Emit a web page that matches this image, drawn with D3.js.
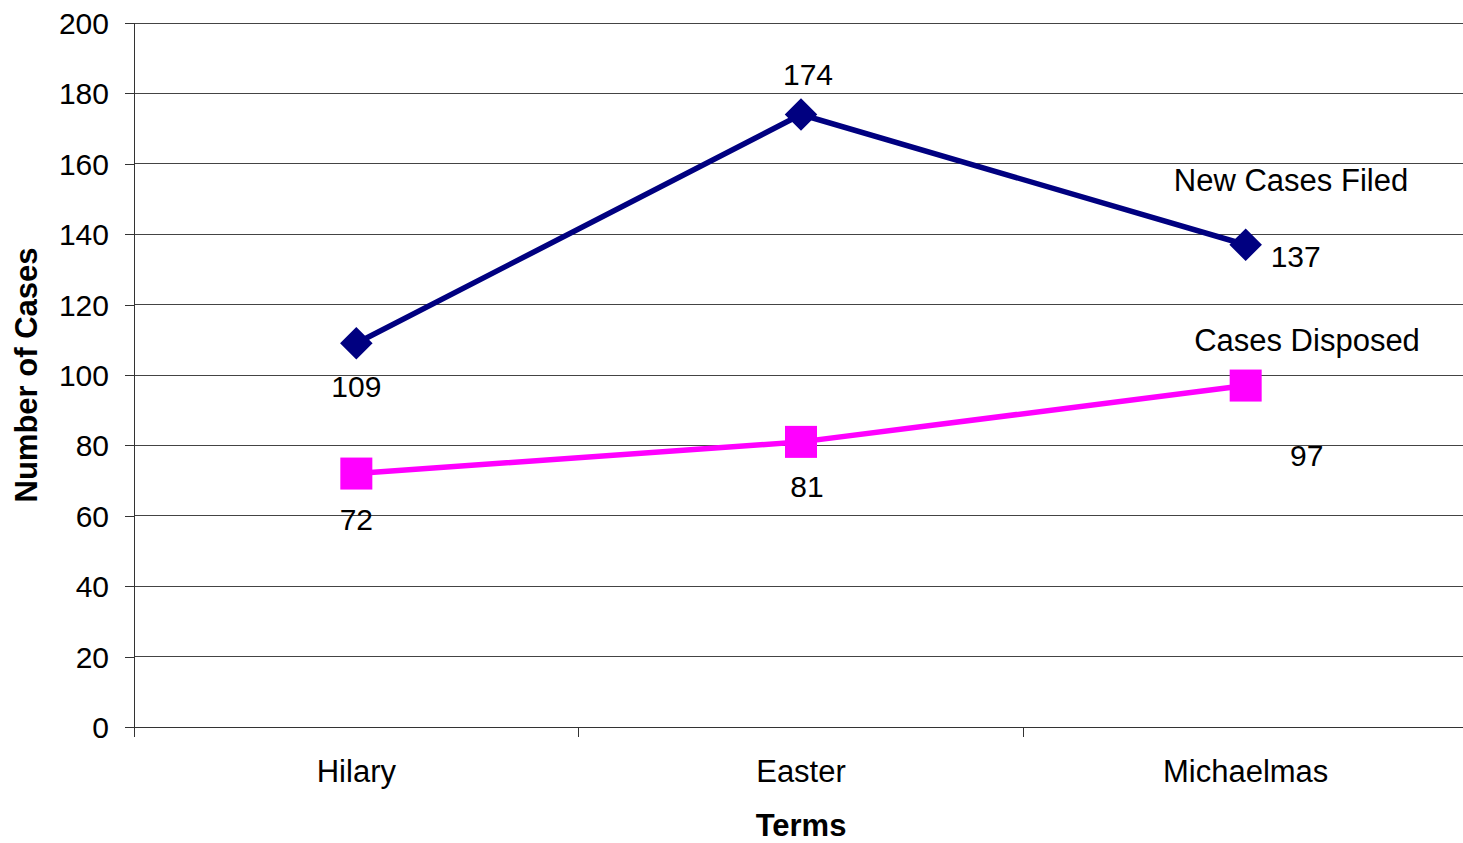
<!DOCTYPE html>
<html>
<head>
<meta charset="utf-8">
<script src="https://cdn.jsdelivr.net/npm/d3@7"></script>
<style>
  html, body { margin: 0; padding: 0; background: #fff; }
  svg { display: block; font-family: "Liberation Sans", Arial, Helvetica, sans-serif; }
</style>
</head>
<body>
<svg id="chart" width="1463" height="843"></svg>
<script>
// ---- data ----
const categories = ["Hilary", "Easter", "Michaelmas"];
const newCasesFiled = [109, 174, 137];
const casesDisposed = [72, 81, 97];
const yTicks = [0, 20, 40, 60, 80, 100, 120, 140, 160, 180, 200];
const seriesNames = ["New Cases Filed", "Cases Disposed"];
const xTitle = "Terms";
const yTitle = "Number of Cases";

(function () {
// ---- layout ----
const W = 1463, H = 843;
const pLeft = 134, pRight = 1468, pTop = 23, pBottom = 727;
const numFont = 30, txtFont = 31;
const svg = d3.select("#chart");

const x = d3.scaleBand().domain(categories).range([pLeft, pRight]).padding(0);
const y = d3.scaleLinear().domain([0, 200]).range([pBottom, pTop]);
const cx = c => x(c) + x.bandwidth() / 2;

// gridlines
svg.append("g").selectAll("line").data(yTicks.filter(v => v > 0)).join("line")
  .attr("x1", pLeft).attr("x2", W).attr("y1", d => y(d)).attr("y2", d => y(d))
  .attr("stroke", "#444").attr("stroke-width", 1).attr("shape-rendering", "crispEdges");

// y axis
const yAxis = svg.append("g").attr("transform", `translate(${pLeft},0)`)
  .call(d3.axisLeft(y).tickValues(yTicks).tickSize(9).tickPadding(16));
yAxis.select(".domain").attr("stroke", "#333").attr("shape-rendering", "crispEdges");
yAxis.selectAll(".tick line").attr("stroke", "#333").attr("shape-rendering", "crispEdges");
yAxis.selectAll("text").attr("font-size", numFont).attr("fill", "#000")
  .attr("font-family", "Liberation Sans, Arial, sans-serif").attr("dy", "0.35em");

// x axis
const xAxis = svg.append("g").attr("transform", `translate(0,${pBottom})`)
  .call(d3.axisBottom(x).tickSize(0).tickPadding(32));
xAxis.select(".domain").remove();
svg.append("line").attr("x1", pLeft).attr("x2", W).attr("y1", pBottom).attr("y2", pBottom)
  .attr("stroke", "#333").attr("shape-rendering", "crispEdges");
// x tick marks at band boundaries
svg.append("g").selectAll("line").data(categories).join("line")
  .attr("x1", d => x(d)).attr("x2", d => x(d)).attr("y1", pBottom).attr("y2", pBottom + 10)
  .attr("stroke", "#333").attr("shape-rendering", "crispEdges");
xAxis.selectAll("text").attr("font-size", txtFont).attr("fill", "#000")
  .attr("font-family", "Liberation Sans, Arial, sans-serif").attr("dy", "0.71em");
xAxis.selectAll(".tick text").attr("y", 33);

// axis titles
svg.append("text").attr("x", 801).attr("y", 836).attr("text-anchor", "middle")
  .attr("font-size", txtFont).attr("font-weight", "bold").text(xTitle);
svg.append("text").attr("transform", "translate(37,375) rotate(-90)").attr("text-anchor", "middle")
  .attr("font-size", txtFont).attr("font-weight", "bold").text(yTitle);

// lines
const line = d3.line().x((d, i) => cx(categories[i])).y(d => y(d));
svg.append("path").datum(newCasesFiled).attr("d", line)
  .attr("fill", "none").attr("stroke", "#000080").attr("stroke-width", 5.5);
svg.append("path").datum(casesDisposed).attr("d", line)
  .attr("fill", "none").attr("stroke", "#FF00FF").attr("stroke-width", 5.5);

// markers
svg.append("g").selectAll("path").data(newCasesFiled).join("path")
  .attr("d", d3.symbol().type(d3.symbolSquare).size(23 * 23))
  .attr("transform", (d, i) => `translate(${cx(categories[i])},${y(d)}) rotate(45)`)
  .attr("fill", "#000080");
svg.append("g").selectAll("rect").data(casesDisposed).join("rect")
  .attr("x", (d, i) => cx(categories[i]) - 16).attr("y", d => y(d) - 16)
  .attr("width", 32).attr("height", 32).attr("fill", "#FF00FF");

// data labels (offsets are placement only)
const filedOffsets = [[0, 54, "middle"], [7, -30, "middle"], [25, 22, "start"]];
const disposedOffsets = [[0, 56, "middle"], [6, 55, "middle"], [61, 80, "middle"]];
svg.append("g").selectAll("text").data(newCasesFiled).join("text")
  .attr("x", (d, i) => cx(categories[i]) + filedOffsets[i][0])
  .attr("y", (d, i) => y(d) + filedOffsets[i][1])
  .attr("text-anchor", (d, i) => filedOffsets[i][2])
  .attr("font-size", numFont).text(d => d);
svg.append("g").selectAll("text").data(casesDisposed).join("text")
  .attr("x", (d, i) => cx(categories[i]) + disposedOffsets[i][0])
  .attr("y", (d, i) => y(d) + disposedOffsets[i][1])
  .attr("text-anchor", (d, i) => disposedOffsets[i][2])
  .attr("font-size", numFont).text(d => d);

// series labels
svg.append("text").attr("x", 1291).attr("y", 191).attr("text-anchor", "middle")
  .attr("font-size", txtFont).text(seriesNames[0]);
svg.append("text").attr("x", 1307).attr("y", 351).attr("text-anchor", "middle")
  .attr("font-size", txtFont).text(seriesNames[1]);
})();
</script>
</body>
</html>
